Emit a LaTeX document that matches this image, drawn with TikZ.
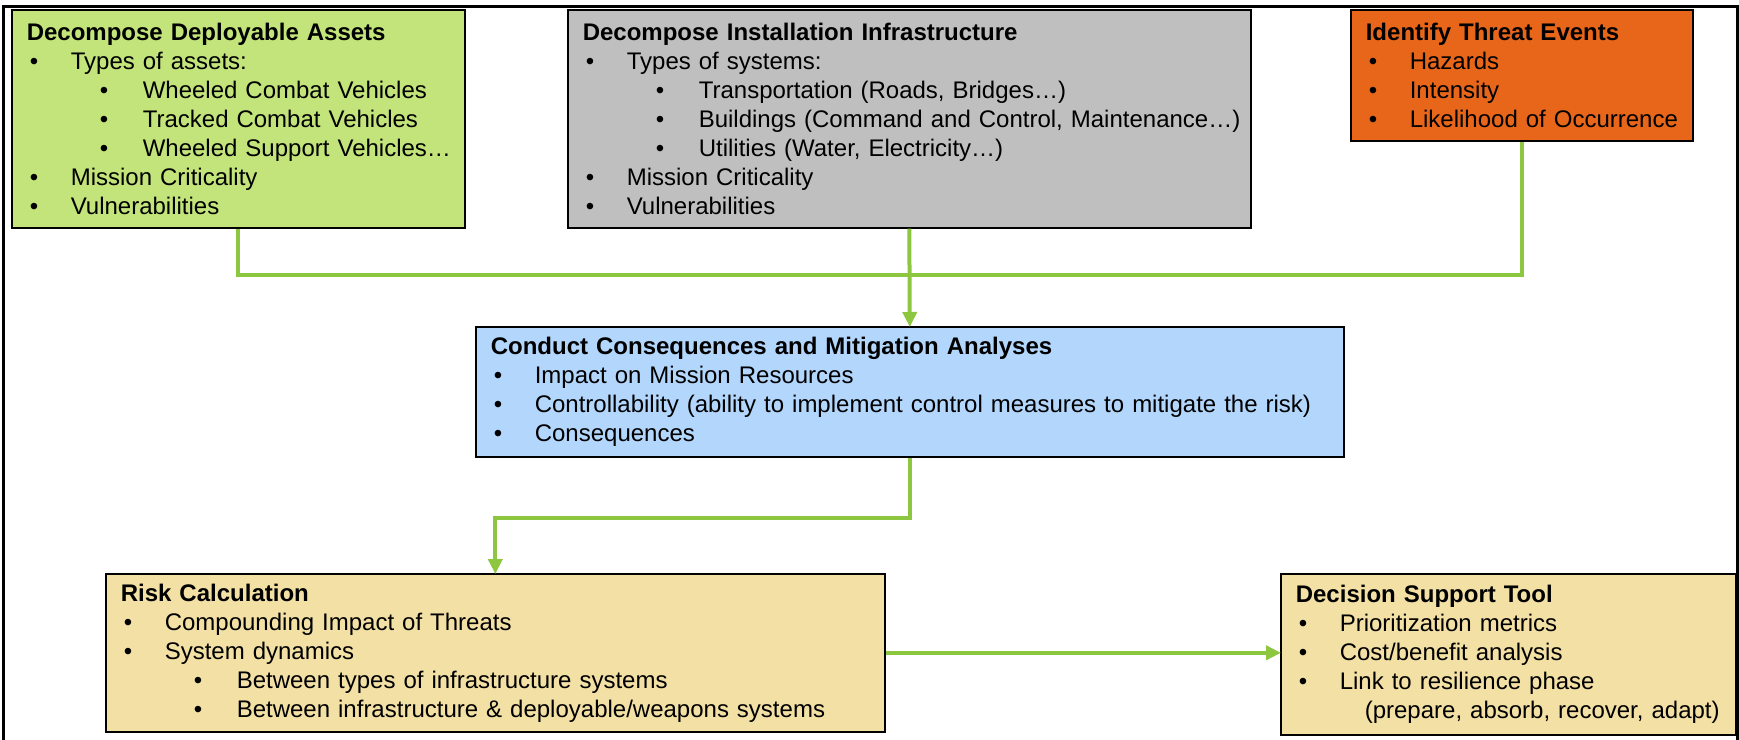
\documentclass[tikz,border=0pt]{standalone}
\usepackage{fontspec}
\setmainfont{Liberation Sans}
\usetikzlibrary{arrows.meta}
\definecolor{boxgreen}{RGB}{195,228,122}
\definecolor{boxgray}{RGB}{191,191,191}
\definecolor{boxorange}{RGB}{232,102,26}
\definecolor{boxblue}{RGB}{178,214,252}
\definecolor{boxtan}{RGB}{243,224,164}
\definecolor{linkgreen}{RGB}{141,198,63}
\newcommand\Li[1]{\mbox{\hspace*{3pt}\makebox[41pt][l]{\textbullet}#1}}
\newcommand\Lii[1]{\mbox{\hspace*{73pt}\makebox[43pt][l]{\textbullet}#1}}
\newcommand\Lc[1]{\mbox{\hspace*{69pt}#1}}
\newcommand\Ttl[1]{\mbox{\bfseries #1}}
\tikzset{
  box/.style={draw=black, line width=1.6pt, anchor=north west, inner xsep=15pt, inner ysep=0pt,
    align=left, font=\fontsize{24}{29}\selectfont},
  link/.style={draw=linkgreen, line width=4pt},
  linkarrow/.style={link, -{Triangle[length=15pt,width=14pt]}, shorten >=-1pt},
  frame/.style={draw=black, line width=3pt}
}
\begin{document}
\begin{tikzpicture}[x=1pt,y=-1pt]
\useasboundingbox (0,0) rectangle (1739,739);
\draw[frame] (3,760) -- (3,6) -- (1737,6) -- (1737,760);

\node[box, fill=boxgreen, text width=423pt, minimum height=218pt] (assets) at (11,9)
 {\Ttl{Decompose Deployable Assets}\\
  \Li{Types of assets:}\\
  \Lii{Wheeled Combat Vehicles}\\
  \Lii{Tracked Combat Vehicles}\\
  \Lii{Wheeled Support Vehicles…}\\
  \Li{Mission Criticality}\\
  \Li{Vulnerabilities}};

\node[box, fill=boxgray, text width=653pt, minimum height=218pt] (infra) at (567,9)
 {\Ttl{Decompose Installation Infrastructure}\\
  \Li{Types of systems:}\\
  \Lii{Transportation (Roads, Bridges…)}\\
  \Lii{Buildings (Command and Control, Maintenance…)}\\
  \Lii{Utilities (Water, Electricity…)}\\
  \Li{Mission Criticality}\\
  \Li{Vulnerabilities}};

\node[box, fill=boxorange, text width=312pt, minimum height=131pt] (threat) at (1350,9)
 {\Ttl{Identify Threat Events}\\
  \Li{Hazards}\\
  \Li{Intensity}\\
  \Li{Likelihood of Occurrence}};

\node[box, fill=boxblue, text width=838pt, minimum height=130pt] (conseq) at (475,326)
 {\Ttl{Conduct Consequences and Mitigation Analyses}\\
  \Li{Impact on Mission Resources}\\
  \Li{Controllability (ability to implement control measures to mitigate the risk)}\\
  \Li{Consequences}};

\node[box, fill=boxtan, text width=749pt, minimum height=158pt] (risk) at (105,573)
 {\Ttl{Risk Calculation}\\
  \Li{Compounding Impact of Threats}\\
  \Li{System dynamics}\\
  \Lii{Between types of infrastructure systems}\\
  \Lii{Between infrastructure \& deployable/weapons systems}};

\node[box, fill=boxtan, text width=425pt, minimum height=161pt] (decision) at (1280,573)
 {\Ttl{Decision Support Tool}\\
  \Li{Prioritization metrics}\\
  \Li{Cost/benefit analysis}\\
  \Li{Link to resilience phase}\\
  \Lc{(prepare, absorb, recover, adapt)}};

\coordinate (merge) at (0,275);
\draw[link] (assets.south) |- (merge -| threat.south) -- (threat.south);
\draw[linkarrow] (infra.south) -- (conseq.north);
\draw[linkarrow] (conseq.south) -- ++(0,60) -| (risk.north);
\draw[linkarrow] (risk.east) -- (risk.east -| decision.west);
\end{tikzpicture}
\end{document}
